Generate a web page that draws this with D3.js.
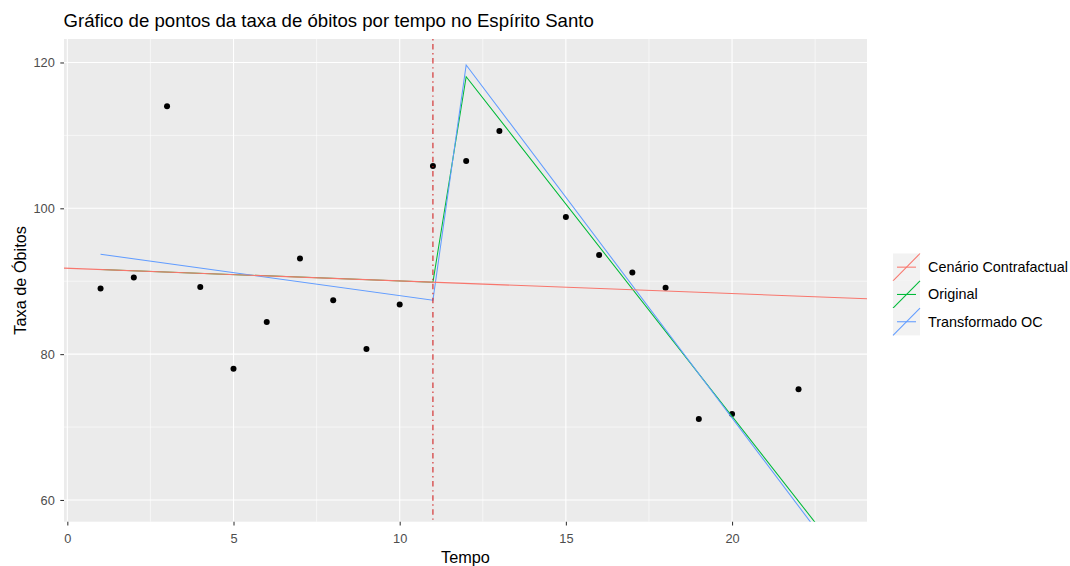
<!DOCTYPE html>
<html>
<head>
<meta charset="utf-8">
<script src="https://cdn.jsdelivr.net/npm/d3@7"></script>
<style>
  html, body { margin: 0; padding: 0; background: #ffffff; }
  svg { display: block; font-family: "Liberation Sans", Arial, sans-serif; }
</style>
</head>
<body>
<svg id="chart" width="1070" height="566"></svg>
<script>
// Observed death rate per time period
const tempo = [1, 2, 3, 4, 5, 6, 7, 8, 9, 10, 11, 12, 13, 15, 16, 17, 18, 19, 20, 22];
const taxaObitos = [89.0, 90.5, 114.0, 89.2, 78.0, 84.4, 93.1, 87.4, 80.7, 86.8,
                    105.8, 106.5, 110.6, 98.8, 93.6, 91.2, 89.1, 71.1, 71.8, 75.2];

// Segmented fits (vertices at the breakpoints)
const ajusteTempo = [1, 11, 12, 23];
const ajusteOriginal = [91.61, 89.87, 118.05, 54.0];
const ajusteTransformado = [93.7, 87.4, 119.66, 53.1];

// Counterfactual scenario: straight line over the whole period
const contrafactualIntercepto = 91.78;
const contrafactualInclinacao = -0.174;

// Intervention time
const intervencao = 11;

// Axis ticks
const xTicks = [0, 5, 10, 15, 20];
const xMinor = [2.5, 7.5, 12.5, 17.5, 22.5];
const yTicks = [60, 80, 100, 120];
const yMinor = [70, 90, 110];

// Legend
const legendLabels = ["Cenário Contrafactual", "Original", "Transformado OC"];
const legendColors = ["#F8766D", "#00BA38", "#619CFF"];

const svg = d3.select("#chart");
const panel = { left: 64, right: 867, top: 39, bottom: 521.7 };

const x = d3.scaleLinear().domain([-0.1, 24.06]).range([panel.left, panel.right]);
const y = d3.scaleLinear().domain([57.02, 123.22]).range([panel.bottom, panel.top]);

// Panel background
svg.append("rect")
  .attr("x", panel.left).attr("y", panel.top)
  .attr("width", panel.right - panel.left).attr("height", panel.bottom - panel.top)
  .attr("fill", "#EBEBEB");

svg.append("clipPath").attr("id", "clip")
  .append("rect")
  .attr("x", panel.left).attr("y", panel.top)
  .attr("width", panel.right - panel.left).attr("height", panel.bottom - panel.top);

const grid = svg.append("g");
grid.selectAll(".xminor").data(xMinor).join("line")
  .attr("x1", d => x(d)).attr("x2", d => x(d))
  .attr("y1", panel.top).attr("y2", panel.bottom)
  .attr("stroke", "#fff").attr("stroke-width", 0.55);
grid.selectAll(".yminor").data(yMinor).join("line")
  .attr("y1", d => y(d)).attr("y2", d => y(d))
  .attr("x1", panel.left).attr("x2", panel.right)
  .attr("stroke", "#fff").attr("stroke-width", 0.55);
grid.selectAll(".xmajor").data(xTicks).join("line")
  .attr("x1", d => x(d)).attr("x2", d => x(d))
  .attr("y1", panel.top).attr("y2", panel.bottom)
  .attr("stroke", "#fff").attr("stroke-width", 1.1);
grid.selectAll(".ymajor").data(yTicks).join("line")
  .attr("y1", d => y(d)).attr("y2", d => y(d))
  .attr("x1", panel.left).attr("x2", panel.right)
  .attr("stroke", "#fff").attr("stroke-width", 1.1);

const plot = svg.append("g").attr("clip-path", "url(#clip)");

// Points
plot.selectAll("circle").data(tempo).join("circle")
  .attr("cx", (d) => x(d))
  .attr("cy", (d, i) => y(taxaObitos[i]))
  .attr("r", 3)
  .attr("fill", "#000");

const line = d3.line().x(d => x(d[0])).y(d => y(d[1]));

plot.append("path")
  .datum(ajusteTempo.map((t, i) => [t, ajusteOriginal[i]]))
  .attr("d", line).attr("fill", "none")
  .attr("stroke", legendColors[1]).attr("stroke-width", 1.05);

plot.append("path")
  .datum(ajusteTempo.map((t, i) => [t, ajusteTransformado[i]]))
  .attr("d", line).attr("fill", "none")
  .attr("stroke", legendColors[2]).attr("stroke-width", 1.05);

const xd = x.domain();
plot.append("path")
  .datum(xd.map(t => [t, contrafactualIntercepto + contrafactualInclinacao * t]))
  .attr("d", line).attr("fill", "none")
  .attr("stroke", legendColors[0]).attr("stroke-width", 1.05);

// Intervention marker
plot.append("line")
  .attr("x1", x(intervencao)).attr("x2", x(intervencao))
  .attr("y1", panel.top).attr("y2", panel.bottom)
  .attr("stroke", "#D11A1A").attr("stroke-width", 1.05)
  .attr("stroke-dasharray", "1.4,3.6,5.5,3.6");

// Axes
const xAxis = svg.append("g").attr("transform", `translate(0,${panel.bottom})`)
  .call(d3.axisBottom(x).tickValues(xTicks).tickSize(3.7).tickPadding(9));
const yAxis = svg.append("g").attr("transform", `translate(${panel.left},0)`)
  .call(d3.axisLeft(y).tickValues(yTicks).tickSize(3.7).tickPadding(5.5));
[xAxis, yAxis].forEach(a => {
  a.select(".domain").remove();
  a.selectAll(".tick line").attr("stroke", "#333333").attr("stroke-width", 1.05);
  a.selectAll(".tick text").attr("fill", "#4D4D4D")
    .style("font-size", "12.8px").style("font-family", "Liberation Sans, Arial, sans-serif");
});
xAxis.selectAll(".tick text").attr("dy", "0").attr("y", 21);

// Titles
svg.append("text").attr("x", panel.left - 0.5).attr("y", 27)
  .attr("fill", "#000").style("font-size", "18.6px")
  .text("Gráfico de pontos da taxa de óbitos por tempo no Espírito Santo");

svg.append("text").attr("x", (panel.left + panel.right) / 2).attr("y", 563)
  .attr("text-anchor", "middle").attr("fill", "#000").style("font-size", "16.3px")
  .text("Tempo");

svg.append("text")
  .attr("transform", `translate(25.5,${(panel.top + panel.bottom) / 2}) rotate(-90)`)
  .attr("text-anchor", "middle").attr("fill", "#000").style("font-size", "16.3px")
  .text("Taxa de Óbitos");

// Legend
const keyX = 893, keyW = 27, keyH = 27.3, keyY0 = 253.5;
const legend = svg.append("g");
legendLabels.forEach((lab, i) => {
  const ky = keyY0 + i * keyH;
  const g = legend.append("g");
  g.append("rect").attr("x", keyX).attr("y", ky).attr("width", keyW).attr("height", keyH)
    .attr("fill", "#F2F2F2");
  g.append("line").attr("x1", keyX).attr("y1", ky + keyH).attr("x2", keyX + keyW).attr("y2", ky)
    .attr("stroke", legendColors[i]).attr("stroke-width", 1.05);
  g.append("line").attr("x1", keyX + 4).attr("x2", keyX + keyW - 4)
    .attr("y1", ky + keyH / 2).attr("y2", ky + keyH / 2)
    .attr("stroke", legendColors[i]).attr("stroke-width", 1.05);
  g.append("text").attr("x", 928).attr("y", ky + keyH / 2).attr("dy", "0.35em")
    .attr("fill", "#000").style("font-size", "14.4px").text(lab);
});
</script>
</body>
</html>
